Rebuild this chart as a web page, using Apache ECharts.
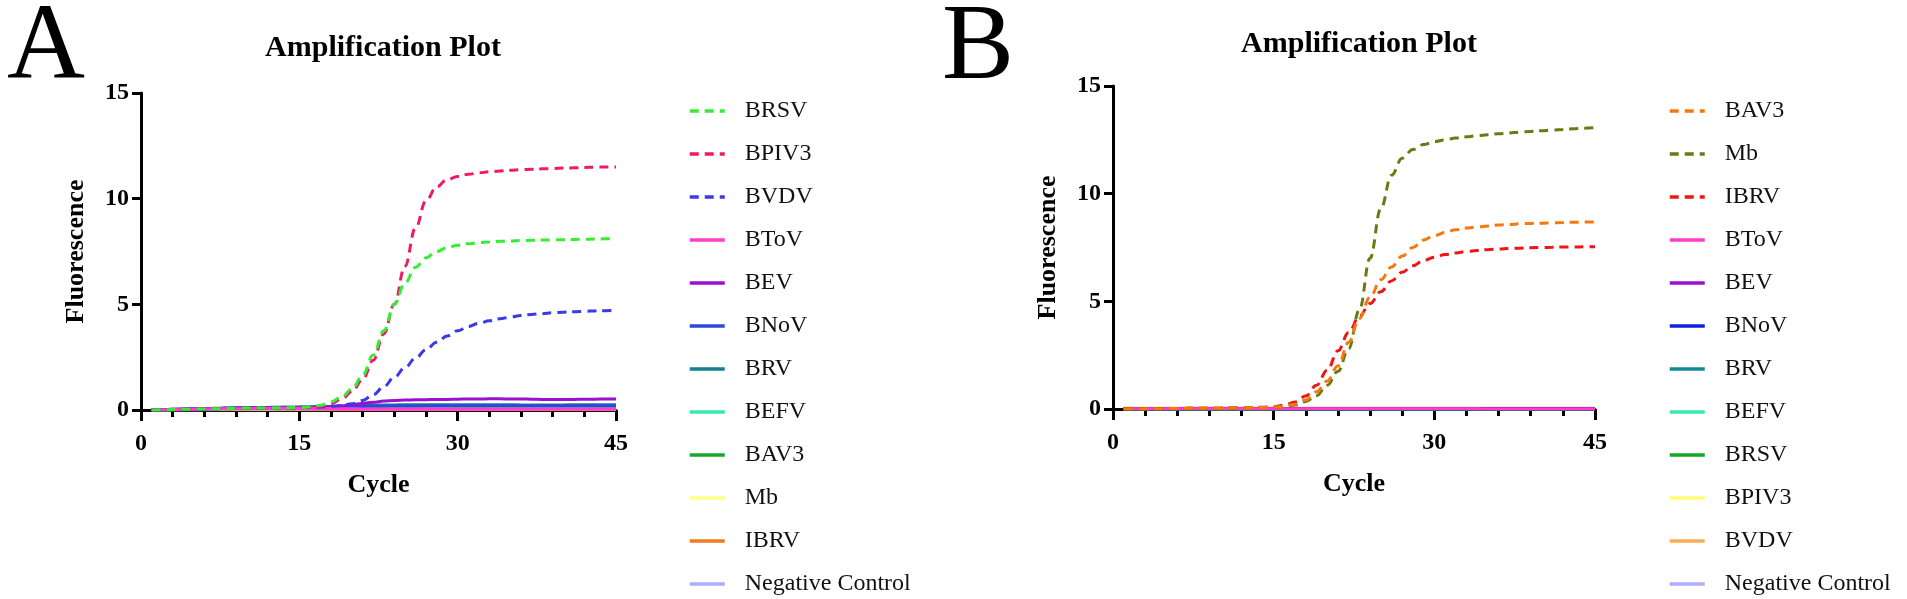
<!DOCTYPE html>
<html lang="en">
<head>
<meta charset="utf-8">
<title>Amplification Plot</title>
<script src="https://cdn.jsdelivr.net/npm/echarts@6/dist/echarts.min.js"></script>
<style>
    html, body { margin: 0; padding: 0; background: #fff; }
    #wrap { position: relative; width: 1907px; height: 599px; }
    #chartA { position: absolute; left: 0; top: 0; width: 920px; height: 599px; }
    #chartB { position: absolute; left: 920px; top: 0; width: 987px; height: 599px; }
</style>
</head>
<body>
<div id="wrap">
    <div id="chartA"></div>
    <div id="chartB"></div>
</div>
<script type="text/javascript">
    var cycles = [1, 2, 3, 4, 5, 6, 7, 8, 9, 10, 11, 12, 13, 14, 15,
        16, 17, 18, 19, 20, 21, 22, 23, 24, 25, 26, 27, 28, 29, 30,
        31, 32, 33, 34, 35, 36, 37, 38, 39, 40, 41, 42, 43, 44, 45];
    var xTicks = [0, 15, 30, 45];
    var yTicks = [0, 5, 10, 15];

    // panel A
    var aNames = ['BRSV', 'BPIV3', 'BVDV', 'BToV', 'BEV', 'BNoV', 'BRV', 'BEFV', 'BAV3', 'Mb', 'IBRV', 'Negative Control'];
    var aColors = ['#33ee33', '#ee1a66', '#3a3ae8', '#ff3ccf', '#9a0fd0', '#2a48dd', '#16808e', '#38e8b0', '#16a82a', '#ffff8a', '#f27a22', '#adadff'];
    var aDashed = [true, true, true, false, false, false, false, false, false, false, false, false];
    var aBRSV = [0, 0.01, 0.02, 0.03, 0.04, 0.05, 0.06, 0.07, 0.08, 0.09, 0.09, 0.1, 0.1, 0.11, 0.12,
        0.15, 0.22, 0.38, 0.62, 1.0, 1.65, 2.6, 3.75, 5.0, 6.0, 6.75, 7.2, 7.5, 7.68, 7.8,
        7.87, 7.92, 7.95, 7.98, 8.0, 8.02, 8.03, 8.04, 8.05, 8.06, 8.07, 8.08, 8.09, 8.1, 8.1];
    var aBPIV3 = [0, 0.01, 0.02, 0.03, 0.04, 0.05, 0.06, 0.06, 0.07, 0.08, 0.08, 0.09, 0.09, 0.1, 0.11,
        0.13, 0.18, 0.3, 0.52, 0.88, 1.45, 2.35, 3.6, 5.0, 6.8, 8.6, 9.9, 10.55, 10.9, 11.05,
        11.15, 11.22, 11.27, 11.31, 11.34, 11.37, 11.39, 11.41, 11.43, 11.45, 11.46, 11.48, 11.49, 11.5, 11.5];
    var aBVDV = [0, 0.01, 0.02, 0.03, 0.04, 0.05, 0.06, 0.07, 0.08, 0.08, 0.09, 0.1, 0.1, 0.11, 0.11,
        0.12, 0.14, 0.17, 0.22, 0.3, 0.45, 0.72, 1.1, 1.55, 2.0, 2.45, 2.85, 3.2, 3.5, 3.75,
        3.95, 4.1, 4.22, 4.32, 4.4, 4.47, 4.52, 4.56, 4.6, 4.63, 4.65, 4.67, 4.69, 4.7, 4.71];
    var aBToV = [0, 0.01, 0.02, 0.03, 0.04, 0.05, 0.05, 0.06, 0.06, 0.07, 0.07, 0.07, 0.08, 0.08, 0.08,
        0.08, 0.07, 0.07, 0.06, 0.06, 0.05, 0.05, 0.05, 0.05, 0.05, 0.05, 0.05, 0.05, 0.05, 0.05,
        0.05, 0.05, 0.05, 0.05, 0.05, 0.05, 0.05, 0.05, 0.05, 0.05, 0.05, 0.05, 0.05, 0.05, 0.05];
    var aBEV = [0, 0.01, 0.03, 0.04, 0.05, 0.06, 0.07, 0.08, 0.09, 0.1, 0.1, 0.11, 0.11, 0.12, 0.12,
        0.13, 0.14, 0.16, 0.2, 0.25, 0.31, 0.37, 0.42, 0.45, 0.47, 0.48, 0.49, 0.5, 0.5, 0.51,
        0.52, 0.52, 0.53, 0.53, 0.52, 0.52, 0.51, 0.5, 0.5, 0.5, 0.5, 0.51, 0.51, 0.52, 0.52];
    var aBNoV = [0, 0.01, 0.03, 0.04, 0.05, 0.06, 0.08, 0.09, 0.1, 0.11, 0.12, 0.12, 0.13, 0.13, 0.14,
        0.14, 0.15, 0.15, 0.16, 0.17, 0.17, 0.18, 0.18, 0.19, 0.19, 0.19, 0.2, 0.2, 0.2, 0.2,
        0.2, 0.2, 0.2, 0.2, 0.2, 0.2, 0.2, 0.2, 0.2, 0.2, 0.2, 0.2, 0.2, 0.2, 0.2];
    var aBRV = [0, 0.01, 0.02, 0.04, 0.05, 0.06, 0.07, 0.08, 0.09, 0.1, 0.11, 0.12, 0.12, 0.13, 0.13,
        0.14, 0.15, 0.16, 0.18, 0.2, 0.22, 0.23, 0.24, 0.24, 0.25, 0.25, 0.25, 0.25, 0.25, 0.25,
        0.25, 0.25, 0.25, 0.25, 0.25, 0.24, 0.24, 0.24, 0.24, 0.24, 0.25, 0.25, 0.25, 0.25, 0.25];
    var aBEFV = [0, 0.01, 0.02, 0.03, 0.04, 0.05, 0.06, 0.07, 0.08, 0.09, 0.1, 0.1, 0.11, 0.11, 0.12,
        0.12, 0.13, 0.13, 0.14, 0.15, 0.16, 0.17, 0.17, 0.18, 0.18, 0.18, 0.18, 0.18, 0.18, 0.18,
        0.18, 0.18, 0.18, 0.18, 0.18, 0.18, 0.18, 0.18, 0.18, 0.18, 0.18, 0.18, 0.18, 0.18, 0.18];
    var aBAV3 = [0, 0.01, 0.02, 0.03, 0.04, 0.05, 0.06, 0.06, 0.07, 0.08, 0.08, 0.09, 0.09, 0.1, 0.1,
        0.1, 0.11, 0.11, 0.12, 0.12, 0.12, 0.12, 0.12, 0.12, 0.12, 0.12, 0.12, 0.12, 0.12, 0.12,
        0.12, 0.12, 0.12, 0.12, 0.12, 0.12, 0.12, 0.12, 0.12, 0.12, 0.12, 0.12, 0.12, 0.12, 0.12];
    var aMb = [0, 0.01, 0.02, 0.02, 0.03, 0.04, 0.04, 0.05, 0.05, 0.06, 0.06, 0.06, 0.07, 0.07, 0.07,
        0.07, 0.07, 0.07, 0.07, 0.07, 0.07, 0.07, 0.07, 0.07, 0.07, 0.07, 0.07, 0.07, 0.07, 0.07,
        0.07, 0.07, 0.07, 0.07, 0.07, 0.07, 0.07, 0.07, 0.07, 0.07, 0.07, 0.07, 0.07, 0.07, 0.07];
    var aIBRV = [0, 0.01, 0.01, 0.02, 0.02, 0.03, 0.03, 0.04, 0.04, 0.04, 0.05, 0.05, 0.05, 0.05, 0.05,
        0.04, 0.04, 0.04, 0.04, 0.04, 0.04, 0.04, 0.04, 0.04, 0.04, 0.04, 0.04, 0.04, 0.04, 0.04,
        0.04, 0.04, 0.04, 0.04, 0.04, 0.04, 0.04, 0.04, 0.04, 0.04, 0.04, 0.04, 0.04, 0.04, 0.04];
    var aNeg = [0, 0, 0, 0, 0, 0.01, 0.01, 0.01, 0.01, 0.01, 0.01, 0.01, 0.01, 0.01, 0.01,
        0.01, 0.01, 0.01, 0.01, 0.01, 0.01, 0.01, 0.01, 0.01, 0.01, 0.01, 0.01, 0.01, 0.01, 0.01,
        0.01, 0.01, 0.01, 0.01, 0.01, 0.01, 0.01, 0.01, 0.01, 0.01, 0.01, 0.01, 0.01, 0.01, 0.01];
    var aValues = [aBRSV, aBPIV3, aBVDV, aBToV, aBEV, aBNoV, aBRV, aBEFV, aBAV3, aMb, aIBRV, aNeg];

    // panel B
    var bNames = ['BAV3', 'Mb', 'IBRV', 'BToV', 'BEV', 'BNoV', 'BRV', 'BEFV', 'BRSV', 'BPIV3', 'BVDV', 'Negative Control'];
    var bColors = ['#f5780f', '#6b7a10', '#ee1515', '#ff3ccf', '#9a0fd0', '#1020dd', '#138a9a', '#38e8b0', '#11a822', '#ffff77', '#ffaa55', '#adadff'];
    var bDashed = [true, true, true, false, false, false, false, false, false, false, false, false];
    var bBAV3 = [0, 0, 0.01, 0.01, 0.02, 0.02, 0.03, 0.03, 0.04, 0.04, 0.05, 0.05, 0.06, 0.07, 0.08,
        0.12, 0.22, 0.42, 0.8, 1.3, 2.0, 3.1, 4.2, 5.2, 6.0, 6.6, 7.1, 7.5, 7.85, 8.05,
        8.2, 8.32, 8.4, 8.46, 8.5, 8.54, 8.57, 8.6, 8.62, 8.63, 8.65, 8.66, 8.67, 8.68, 8.68];
    var bMb = [0, 0, 0.01, 0.01, 0.02, 0.02, 0.03, 0.03, 0.04, 0.04, 0.05, 0.05, 0.06, 0.07, 0.08,
        0.1, 0.18, 0.35, 0.62, 1.1, 1.75, 2.8, 4.6, 7.0, 9.3, 10.85, 11.65, 12.05, 12.28, 12.42,
        12.5, 12.58, 12.64, 12.69, 12.74, 12.78, 12.82, 12.86, 12.89, 12.92, 12.95, 12.98, 13.01, 13.04, 13.07];
    var bIBRV = [0, 0, 0.01, 0.01, 0.02, 0.02, 0.03, 0.03, 0.04, 0.04, 0.05, 0.06, 0.07, 0.08, 0.1,
        0.18, 0.32, 0.6, 1.1, 1.8, 2.7, 3.55, 4.3, 4.9, 5.45, 5.95, 6.35, 6.65, 6.9, 7.05,
        7.17, 7.25, 7.31, 7.36, 7.4, 7.43, 7.45, 7.47, 7.49, 7.5, 7.51, 7.52, 7.52, 7.53, 7.53];
    var bBToV = [0.01, 0.01, 0.01, 0.01, 0.01, 0.01, 0.01, 0.01, 0.01, 0.01, 0.01, 0.01, 0.01, 0.01, 0.01,
        0.01, 0.01, 0.01, 0.01, 0.01, 0.01, 0.01, 0.01, 0.01, 0.01, 0.01, 0.01, 0.01, 0.01, 0.01,
        0.01, 0.01, 0.01, 0.01, 0, 0, 0, 0, 0, 0, 0, 0, 0, 0, 0];
    var bBEV = [0.02, 0.02, 0.02, 0.02, 0.02, 0.02, 0.02, 0.02, 0.02, 0.02, 0.02, 0.02, 0.02, 0.02, 0.02,
        0.02, 0.02, 0.02, 0.02, 0.02, 0.02, 0.02, 0.02, 0.02, 0.02, 0.02, 0.02, 0.02, 0.02, 0.02,
        0.02, 0.02, 0.02, 0.02, 0.01, 0.01, 0.01, 0.01, 0.01, 0.01, 0.01, 0.01, 0.01, 0.01, 0.01];
    var bBNoV = [0.01, 0.01, 0.01, 0.01, 0.01, 0.01, 0.01, 0.01, 0.01, 0.01, 0.01, 0.01, 0.01, 0.01, 0.01,
        0.01, 0.01, 0.01, 0.01, 0.01, 0.01, 0.01, 0.01, 0.01, 0.01, 0.01, 0.01, 0.01, 0.01, 0.01,
        0.01, 0.01, 0.01, 0.01, 0.01, 0.01, 0.01, 0.01, 0.01, 0.01, 0.01, 0.01, 0.01, 0.01, 0.01];
    var bBRV = [0.01, 0.01, 0.01, 0.01, 0.01, 0.01, 0.01, 0.01, 0.01, 0.01, 0.01, 0.01, 0.01, 0.01, 0.01,
        0.01, 0.01, 0.01, 0.01, 0.01, 0.01, 0.01, 0.01, 0.01, 0.01, 0.01, 0.01, 0.01, 0.01, 0.01,
        0.01, 0.01, 0.01, 0.01, 0.01, 0.01, 0.01, 0.01, 0.01, 0.01, 0.01, 0.01, 0.01, 0.01, 0.01];
    var bBEFV = [0, 0, 0, 0, 0, 0, 0, 0, 0, 0, 0, 0, 0, 0, 0,
        0, 0, 0, 0, 0, 0, 0, 0, 0, 0, 0, 0, 0, 0, 0,
        0, 0, 0, 0, 0, 0, 0, 0, 0, 0, 0, 0, 0, 0, 0];
    var bBRSV = [0, 0, 0, 0, 0, 0, 0, 0, 0, 0, 0, 0, 0, 0, 0,
        0, 0, 0, 0, 0, 0, 0, 0, 0, 0, 0, 0, 0, 0, 0,
        0, 0, 0, 0, 0, 0, 0, 0, 0, 0, 0, 0, 0, 0, 0];
    var bBPIV3 = [0.02, 0.02, 0.02, 0.02, 0.02, 0.02, 0.02, 0.02, 0.02, 0.02, 0.02, 0.02, 0.02, 0.02, 0.02,
        0.02, 0.02, 0.02, 0.02, 0.02, 0.02, 0.02, 0.02, 0.02, 0.02, 0.02, 0.02, 0.02, 0.02, 0.02,
        0.02, 0.02, 0.02, 0.02, 0.02, 0.02, 0.02, 0.02, 0.02, 0.02, 0.02, 0.02, 0.02, 0.02, 0.02];
    var bBVDV = [0.03, 0.03, 0.03, 0.03, 0.03, 0.03, 0.03, 0.03, 0.03, 0.03, 0.03, 0.03, 0.03, 0.03, 0.03,
        0.03, 0.03, 0.03, 0.03, 0.03, 0.03, 0.03, 0.03, 0.03, 0.03, 0.03, 0.03, 0.03, 0.03, 0.03,
        0.03, 0.03, 0.03, 0.04, 0.04, 0.04, 0.04, 0.04, 0.04, 0.04, 0.04, 0.04, 0.04, 0.04, 0.04];
    var bNeg = [0, 0, 0, 0, 0, 0, 0, 0, 0, 0, 0, 0, 0, 0, 0,
        0, 0, 0, 0, 0, 0, 0, 0, 0, 0, 0, 0, 0, 0, 0,
        0, 0, 0, 0, 0, 0, 0, 0, 0, 0, 0, 0, 0, 0, 0];
    var bValues = [bBAV3, bMb, bIBRV, bBToV, bBEV, bBNoV, bBRV, bBEFV, bBRSV, bBPIV3, bBVDV, bNeg];

    var serif = 'Liberation Serif';

    function buildSeries(names, colors, dashed, values) {
        var list = [];
        // solid near-zero curves first, dashed ones on top
        for (var i = names.length - 1; i >= 0; i--) {
            list.push({
                name: names[i],
                type: 'line',
                symbol: 'none',
                smooth: 0.4,
                smoothMonotone: 'x',
                z: dashed[i] ? 5 : 3,
                data: cycles.map(function (c, k) { return [c, values[i][k]]; }),
                itemStyle: {color: colors[i]},
                lineStyle: {color: colors[i], width: 3, type: dashed[i] ? [9, 6] : 'solid'}
            });
        }
        return list;
    }

    function buildOption(p) {
        return {
            animation: false,
            title: [
                {text: p.letter, left: p.letterLeft, top: p.letterTop,
                    textStyle: {fontFamily: serif, fontWeight: 'normal', fontSize: 108, color: '#000'}},
                {text: 'Amplification Plot', left: p.titleCenter, top: p.titleTop, textAlign: 'center',
                    textStyle: {fontFamily: serif, fontWeight: 'bold', fontSize: 30, color: '#000'}}
            ],
            legend: {
                orient: 'vertical',
                left: p.legendLeft,
                top: 98,
                padding: 0,
                itemWidth: 35,
                itemHeight: 14,
                itemGap: 17,
                itemStyle: {opacity: 0},
                lineStyle: {width: 3.5},
                data: p.names,
                textStyle: {fontFamily: serif, fontSize: 24, color: '#111', lineHeight: 26, padding: [0, 0, 0, 15]}
            },
            grid: {left: p.gridLeft, top: p.gridTop, width: p.gridWidth, height: p.gridHeight, containLabel: false},
            xAxis: {
                type: 'value',
                min: xTicks[0],
                max: xTicks[xTicks.length - 1],
                interval: xTicks[1] - xTicks[0],
                name: 'Cycle',
                nameLocation: 'middle',
                nameGap: 62,
                nameTextStyle: {fontFamily: serif, fontWeight: 'bold', fontSize: 26, color: '#000'},
                axisLine: {lineStyle: {color: '#000', width: 3}},
                axisTick: {length: 11, lineStyle: {color: '#000', width: 3}},
                minorTick: {show: true, splitNumber: 5, length: 7, lineStyle: {color: '#000', width: 3}},
                splitLine: {show: false},
                axisLabel: {fontFamily: serif, fontWeight: 'bold', fontSize: 24, color: '#000', margin: 22}
            },
            yAxis: {
                type: 'value',
                min: yTicks[0],
                max: yTicks[yTicks.length - 1],
                interval: yTicks[1] - yTicks[0],
                name: 'Fluorescence',
                nameLocation: 'middle',
                nameGap: 52,
                nameTextStyle: {fontFamily: serif, fontWeight: 'bold', fontSize: 26, color: '#000'},
                axisLine: {show: true, lineStyle: {color: '#000', width: 3}},
                axisTick: {show: true, length: 9, lineStyle: {color: '#000', width: 3}},
                splitLine: {show: false},
                axisLabel: {fontFamily: serif, fontWeight: 'bold', fontSize: 24, color: '#000', margin: 12}
            },
            series: buildSeries(p.names, p.colors, p.dashed, p.values)
        };
    }

    var chartA = echarts.init(document.getElementById('chartA'));
    chartA.setOption(buildOption({
        letter: 'A', letterLeft: 2, letterTop: -9,
        titleCenter: 378, titleTop: 28,
        legendLeft: 688,
        gridLeft: 141, gridTop: 93, gridWidth: 475, gridHeight: 317,
        names: aNames, colors: aColors, dashed: aDashed, values: aValues
    }));

    var chartB = echarts.init(document.getElementById('chartB'));
    chartB.setOption(buildOption({
        letter: 'B', letterLeft: 17, letterTop: -9,
        titleCenter: 434, titleTop: 24,
        legendLeft: 748,
        gridLeft: 193, gridTop: 86, gridWidth: 482, gridHeight: 323,
        names: bNames, colors: bColors, dashed: bDashed, values: bValues
    }));
</script>
</body>
</html>
